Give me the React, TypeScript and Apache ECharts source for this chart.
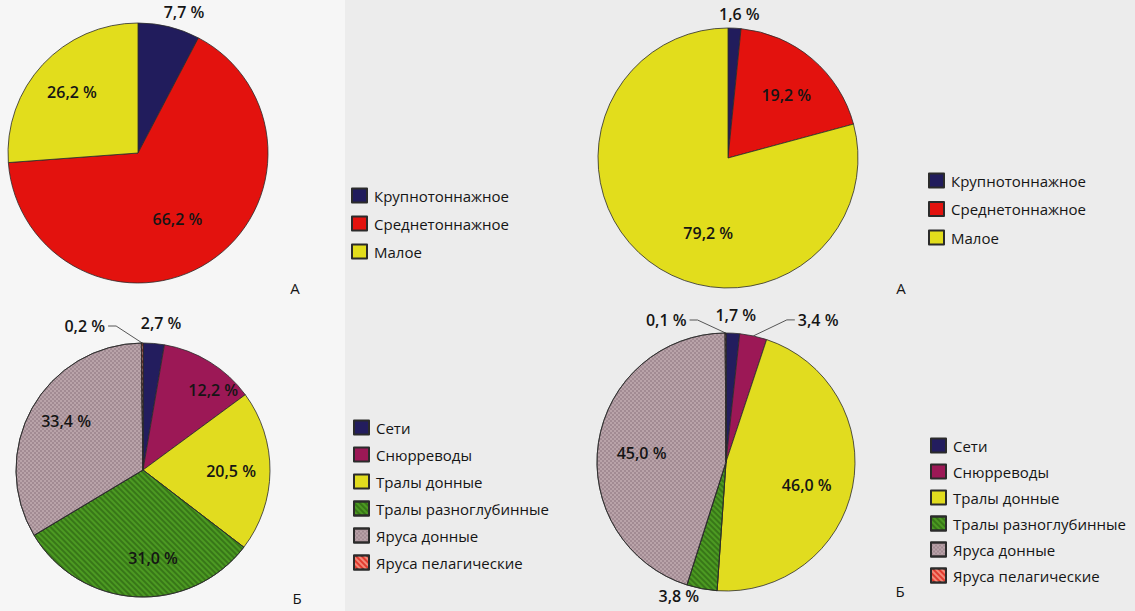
import React, { useEffect, useRef } from "react";
import * as echarts from "echarts";

// ---- data ----
const vesselNames = ["Крупнотоннажное", "Среднетоннажное", "Малое"];
const vesselValuesLeft = [7.7, 66.2, 26.2];
const vesselValuesRight = [1.6, 19.2, 79.2];

const gearNames = [
  "Сети",
  "Снюрреводы",
  "Тралы донные",
  "Тралы разноглубинные",
  "Яруса донные",
  "Яруса пелагические",
];
const gearValuesLeft = [2.7, 12.2, 20.5, 31.0, 33.4, 0.2];
const gearValuesRight = [1.7, 3.4, 46.0, 3.8, 45.0, 0.1];

const panelLetters = ["А", "А", "Б", "Б"];

// ---- styles ----
const FONT = "'Open Sans', 'Noto Sans', sans-serif";
const TEXT = "#151515";
const vesselColors = ["#211c5c", "#e3120e", "#e2dd1c"];
const gearColors = ["#231d5e", "#9c1856", "#e1dc1f", "#4c9a22", "#b9a3a9", "#e23b2f"];

const stripe = (color: string) => ({
  symbol: "rect",
  symbolSize: 1,
  dashArrayX: [1, 0],
  dashArrayY: [2, 2],
  rotation: Math.PI / 4,
  color,
});
const checker = (color: string) => ({
  symbol: "rect",
  symbolSize: 1,
  dashArrayX: [[2, 2], [0, 2, 2, 0]],
  dashArrayY: [2, 0],
  color,
});
const gearDecals: any[] = [
  undefined,
  undefined,
  undefined,
  stripe("rgba(30,75,10,0.45)"),
  checker("rgba(120,95,105,0.35)"),
  stripe("rgba(255,200,180,0.55)"),
];

type Mode = "inner" | "outer" | "line";
interface PieDef {
  names: string[];
  values: number[];
  colors: string[];
  decals?: any[];
  center: [number, number];
  r: number;
  modes: Mode[];
  lines?: Record<number, [number, number]>;
  nudge?: Record<number, [number, number]>;
  legend: { left: number; top: number; gap: number };
  letter: { x: number; y: number };
}

const pies: PieDef[] = [
  {
    names: vesselNames,
    values: vesselValuesLeft,
    colors: vesselColors,
    center: [138, 153],
    r: 130,
    modes: ["outer", "inner", "inner"],
    nudge: { 0: [11, 1], 1: [-10, -9] },
    legend: { left: 351, top: 187.5, gap: 12 },
    letter: { x: 295, y: 288 },
  },
  {
    names: vesselNames,
    values: vesselValuesRight,
    colors: vesselColors,
    center: [728, 158],
    r: 130,
    modes: ["outer", "inner", "inner"],
    nudge: { 0: [4, 2], 1: [0, 6], 2: [35, 3] },
    legend: { left: 928, top: 172.5, gap: 12.5 },
    letter: { x: 901, y: 288 },
  },
  {
    names: gearNames,
    values: gearValuesLeft,
    colors: gearColors,
    decals: gearDecals,
    center: [143, 470],
    r: 127,
    modes: ["outer", "inner", "inner", "inner", "inner", "line"],
    lines: { 5: [17, 34] },
    nudge: { 0: [6, -5], 1: [24, -5], 3: [15, 0], 4: [0, -6] },
    legend: { left: 353, top: 419.5, gap: 11 },
    letter: { x: 297, y: 598 },
  },
  {
    names: gearNames,
    values: gearValuesRight,
    colors: gearColors,
    decals: gearDecals,
    center: [726, 462],
    r: 129,
    modes: ["outer", "line", "inner", "outer", "inner", "line"],
    lines: { 1: [16.4, 38], 5: [13, 36] },
    nudge: { 0: [2, -2], 2: [-7, 6], 3: [-20, -8], 4: [4, 4] },
    legend: { left: 930, top: 437.5, gap: 10 },
    letter: { x: 900, y: 591 },
  },
];

const fmt = (v: number) => v.toFixed(1).replace(".", ",") + " %";
const labelText = {
  fontFamily: FONT,
  fontSize: 16,
  fontWeight: 600 as any,
  color: TEXT,
};

function buildOption() {
  const mains: any[] = [];
  const overlays: any[] = [];
  pies.forEach((p, i) => {
    mains.push({
      type: "pie",
      name: "pie" + i,
      center: p.center,
      radius: p.r,
      startAngle: 90,
      clockwise: true,
      avoidLabelOverlap: false,
      silent: true,
      emphasis: { disabled: true },
      itemStyle: { borderColor: "#2b2b2b", borderWidth: 0.8 },
      label: { show: false },
      labelLine: { show: false },
      labelLayout: (params: any) => {
        if (p.modes[params.dataIndex] !== "line" || !params.labelLinePoints) return {};
        const pts = params.labelLinePoints;
        const p0 = pts[0];
        const p2 = pts[pts.length - 1];
        const sign = p2[0] < p0[0] ? 1 : -1;
        return { labelLinePoints: [p0, [p2[0] + sign * 8, p2[1]], p2] };
      },
      data: p.names.map((n, k) => {
        const isLine = p.modes[k] === "line";
        const ln = p.lines?.[k] ?? [15, 25];
        return {
          name: n,
          value: p.values[k],
          itemStyle: { color: p.colors[k], decal: p.decals?.[k] },
          label: isLine
            ? {
                show: true,
                position: "outside",
                formatter: () => fmt(p.values[k]),
                distanceToLabelLine: 3,
                ...labelText,
              }
            : { show: false },
          labelLine: isLine
            ? {
                show: true,
                length: ln[0],
                length2: ln[1],
                lineStyle: { color: "#444", width: 0.9 },
              }
            : { show: false },
        };
      }),
    });
    const nudgeLayout = (params: any) => {
      const d = p.nudge?.[params.dataIndex];
      return d ? { dx: d[0], dy: d[1] } : {};
    };
    const ring = (kind: Mode, radius: any) => ({
      type: "pie",
      name: kind + i,
      center: p.center,
      radius,
      startAngle: 90,
      avoidLabelOverlap: false,
      silent: true,
      emphasis: { disabled: true },
      itemStyle: { color: "rgba(0,0,0,0)", borderWidth: 0 },
      labelLine: { show: false },
      labelLayout: nudgeLayout,
      data: p.names.map((n, k) => ({
        name: n,
        value: p.values[k],
        label: {
          show: p.modes[k] === kind,
          position: "inside",
          formatter: () => fmt(p.values[k]),
          ...labelText,
        },
      })),
    });
    overlays.push(ring("inner", [p.r * 0.34, p.r]));
    overlays.push(ring("outer", [p.r, p.r + 26]));
  });

  return {
    animation: false,
    backgroundColor: "#ececec",
    graphic: [
      {
        type: "rect",
        z: -10,
        silent: true,
        shape: { x: 0, y: 0, width: 345, height: 611 },
        style: { fill: "#f6f6f6" },
      },
      ...pies.map((p, i) => ({
        type: "text",
        x: p.letter.x,
        y: p.letter.y,
        style: {
          text: panelLetters[i],
          fontFamily: FONT,
          fontSize: 15,
          fill: TEXT,
          align: "center",
          verticalAlign: "middle",
        },
      })),
    ],
    legend: pies.map((p) => ({
      orient: "vertical",
      left: p.legend.left,
      top: p.legend.top,
      padding: 0,
      itemWidth: 15,
      itemHeight: 14,
      itemGap: p.legend.gap,
      icon: "rect",
      selectedMode: false,
      data: p.names,
      textStyle: {
        fontFamily: FONT,
        fontSize: 15,
        color: TEXT,
        padding: [0, 0, 0, 2],
      },
    })),
    series: [...mains, ...overlays],
  };
}

export default function App() {
  const ref = useRef<HTMLDivElement>(null);
  useEffect(() => {
    document.body.style.margin = "0";
    if (!ref.current) return;
    const chart = echarts.init(ref.current, undefined, { renderer: "svg" });
    chart.setOption(buildOption() as any);
    return () => chart.dispose();
  }, []);
  return <div ref={ref} style={{ width: 1135, height: 611 }} />;
}
